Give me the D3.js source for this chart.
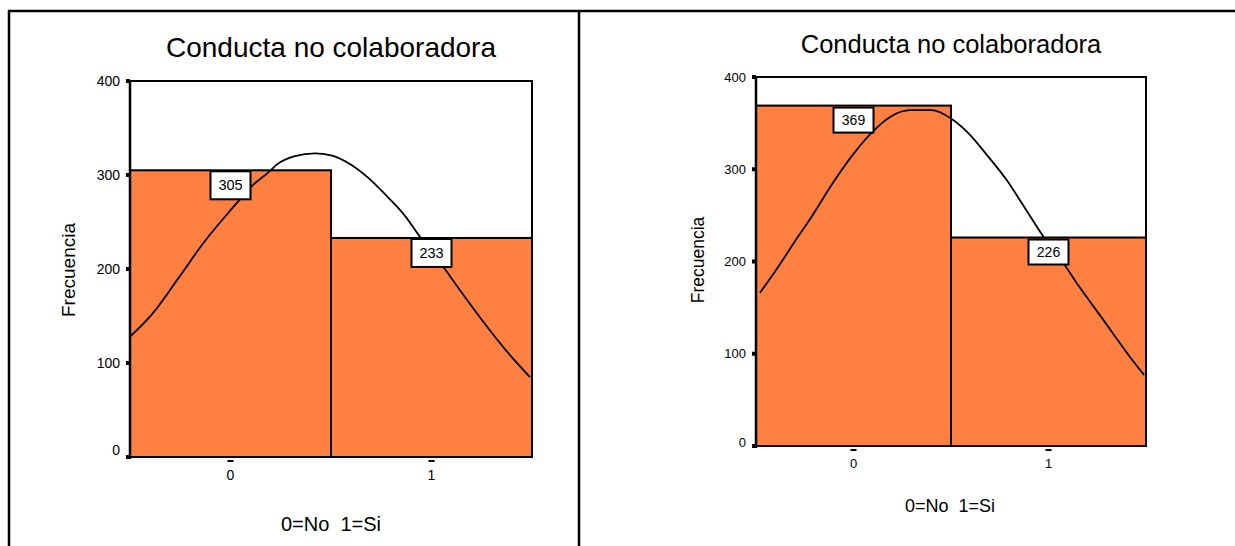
<!DOCTYPE html>
<html>
<head>
<meta charset="utf-8">
<script src="https://cdn.jsdelivr.net/npm/d3@7"></script>
<style>
  html, body { margin: 0; padding: 0; background: #fff; }
  svg { display: block; }
  text { font-family: "Liberation Sans", Arial, sans-serif; fill: #000; }
</style>
</head>
<body>
<svg id="chart" width="1235" height="546"></svg>
<script>
// ---------- DATA ----------
const categories = [0, 1];
const tickLabels = ["0", "1"];
const yTickValues = [0, 100, 200, 300, 400];
const titleText = "Conducta no colaboradora";
const yTitleText = "Frecuencia";
const xTitleText = "0=No  1=Si";

const leftCounts = [305, 233];
const rightCounts = [369, 226];

// normal curve (x in category units, y in frequency)
const leftCurveX = [-0.50, -0.39, -0.26, -0.13, -0.01, 0.06, 0.11, 0.19, 0.23, 0.32, 0.42, 0.50, 0.60, 0.68, 0.78, 0.87, 0.94, 1.07, 1.15, 1.25, 1.38, 1.49];
const leftCurveY = [128, 152, 190, 229, 260, 277, 289, 303, 311, 320, 323, 321, 311, 298, 277, 256, 235, 199, 175, 146, 111, 85];

const rightCurveX = [-0.48, -0.39, -0.30, -0.22, -0.10, -0.01, 0.09, 0.19, 0.29, 0.40, 0.50, 0.58, 0.69, 0.79, 0.87, 0.98, 1.08, 1.16, 1.27, 1.42, 1.49];
const rightCurveY = [166, 193, 222, 247, 287, 314, 339, 357, 364, 364, 355, 341, 314, 287, 261, 225, 197, 172, 140, 96, 77];

// ---------- DRAW ----------
const svg = d3.select("#chart");
const BAR = "#ff8040";

// outer frame lines
svg.append("line").attr("x1", 8).attr("x2", 1235).attr("y1", 11).attr("y2", 11)
  .attr("stroke", "#000").attr("stroke-width", 2.5);
svg.append("line").attr("x1", 9).attr("x2", 9).attr("y1", 10).attr("y2", 546)
  .attr("stroke", "#000").attr("stroke-width", 2.5);
svg.append("line").attr("x1", 579).attr("x2", 579).attr("y1", 10).attr("y2", 546)
  .attr("stroke", "#000").attr("stroke-width", 2.5);

function drawPanel(cfg) {
  const g = svg.append("g");
  const x = d3.scaleLinear().domain([-0.5, 1.5]).range([cfg.x0, cfg.x1]);
  const y = d3.scaleLinear().domain([0, 400]).range([cfg.y0, cfg.y1]);

  // plot frame
  g.append("rect").attr("x", x(-0.5)).attr("y", y(400))
    .attr("width", x(1.5) - x(-0.5)).attr("height", y(0) - y(400))
    .attr("fill", "#fff").attr("stroke", "#000").attr("stroke-width", 2);

  // bars
  g.selectAll("rect.bar").data(categories).enter().append("rect")
    .attr("class", "bar")
    .attr("x", d => x(d - 0.5))
    .attr("y", (d, i) => y(cfg.counts[i]))
    .attr("width", d => x(d + 0.5) - x(d - 0.5))
    .attr("height", (d, i) => y(0) - y(cfg.counts[i]))
    .attr("fill", BAR).attr("stroke", "#000").attr("stroke-width", 2);

  // normal curve
  const line = d3.line().x(d => x(d[0])).y(d => y(d[1])).curve(d3.curveMonotoneX);
  g.append("path").datum(cfg.curveX.map((v, i) => [v, cfg.curveY[i]]))
    .attr("d", line).attr("fill", "none").attr("stroke", "#000").attr("stroke-width", 1.8)
    .attr("stroke-linejoin", "round");

  // value boxes
  categories.forEach((c, i) => {
    const bx = x(c) - cfg.boxW / 2, by = y(cfg.counts[i]) + cfg.boxDy;
    g.append("rect").attr("x", bx).attr("y", by).attr("width", cfg.boxW).attr("height", cfg.boxH)
      .attr("fill", "#fff").attr("stroke", "#000").attr("stroke-width", 2);
    g.append("text").attr("x", x(c)).attr("y", by + cfg.boxH / 2)
      .attr("text-anchor", "middle").attr("dominant-baseline", "central")
      .attr("font-size", cfg.boxFont).text(cfg.counts[i]);
  });

  // y axis (ticks as small squares)
  g.append("line").attr("x1", x(-0.5)).attr("x2", x(-0.5)).attr("y1", y(0) + 2).attr("y2", y(400))
    .attr("stroke", "#000").attr("stroke-width", 2.5);
  yTickValues.forEach((v, i) => {
    g.append("rect").attr("x", x(-0.5) - 4).attr("y", y(v) - 2).attr("width", 4).attr("height", 4).attr("fill", "#000");
    g.append("text").attr("x", x(-0.5) - cfg.yLabelGap).attr("y", y(v) + (i === 0 ? cfg.zeroDy : 0))
      .attr("text-anchor", "end").attr("dominant-baseline", "central")
      .attr("font-size", cfg.yTickFont).text(v);
  });

  // x ticks
  categories.forEach((c, i) => {
    g.append("rect").attr("x", x(c) - 3).attr("y", y(0) + 3).attr("width", 6).attr("height", 2).attr("fill", "#000");
    g.append("text").attr("x", x(c)).attr("y", cfg.xTickY)
      .attr("text-anchor", "middle").attr("dominant-baseline", "central")
      .attr("font-size", cfg.xTickFont).text(tickLabels[i]);
  });

  // titles
  g.append("text").attr("x", cfg.titleX).attr("y", cfg.titleY)
    .attr("text-anchor", "middle").attr("dominant-baseline", "central")
    .attr("font-size", cfg.titleFont).text(titleText);
  g.append("text").attr("transform", `translate(${cfg.yTitleX},${cfg.yTitleY}) rotate(-90)`)
    .attr("text-anchor", "middle").attr("dominant-baseline", "central")
    .attr("font-size", cfg.yTitleFont).text(yTitleText);
  g.append("text").attr("x", cfg.xTitleX).attr("y", cfg.xTitleY)
    .attr("text-anchor", "middle").attr("dominant-baseline", "central")
    .attr("font-size", cfg.xTitleFont).style("white-space", "pre").text(xTitleText);
}

drawPanel({
  x0: 130, x1: 532, y0: 457, y1: 81,
  counts: leftCounts, curveX: leftCurveX, curveY: leftCurveY,
  boxW: 40, boxH: 28, boxDy: 1, boxFont: 14.5,
  yLabelGap: 10, yTickFont: 14, zeroDy: -7,
  xTickY: 475, xTickFont: 14,
  titleX: 331, titleY: 47, titleFont: 28,
  yTitleX: 68, yTitleY: 270, yTitleFont: 19,
  xTitleX: 331, xTitleY: 524, xTitleFont: 20
});

drawPanel({
  x0: 756, x1: 1146, y0: 446, y1: 77,
  counts: rightCounts, curveX: rightCurveX, curveY: rightCurveY,
  boxW: 40, boxH: 25, boxDy: 2, boxFont: 14,
  yLabelGap: 10, yTickFont: 13, zeroDy: -4,
  xTickY: 463, xTickFont: 13,
  titleX: 951, titleY: 44, titleFont: 25.5,
  yTitleX: 698, yTitleY: 260, yTitleFont: 17.5,
  xTitleX: 950, xTitleY: 506, xTitleFont: 18
});
</script>
</body>
</html>
